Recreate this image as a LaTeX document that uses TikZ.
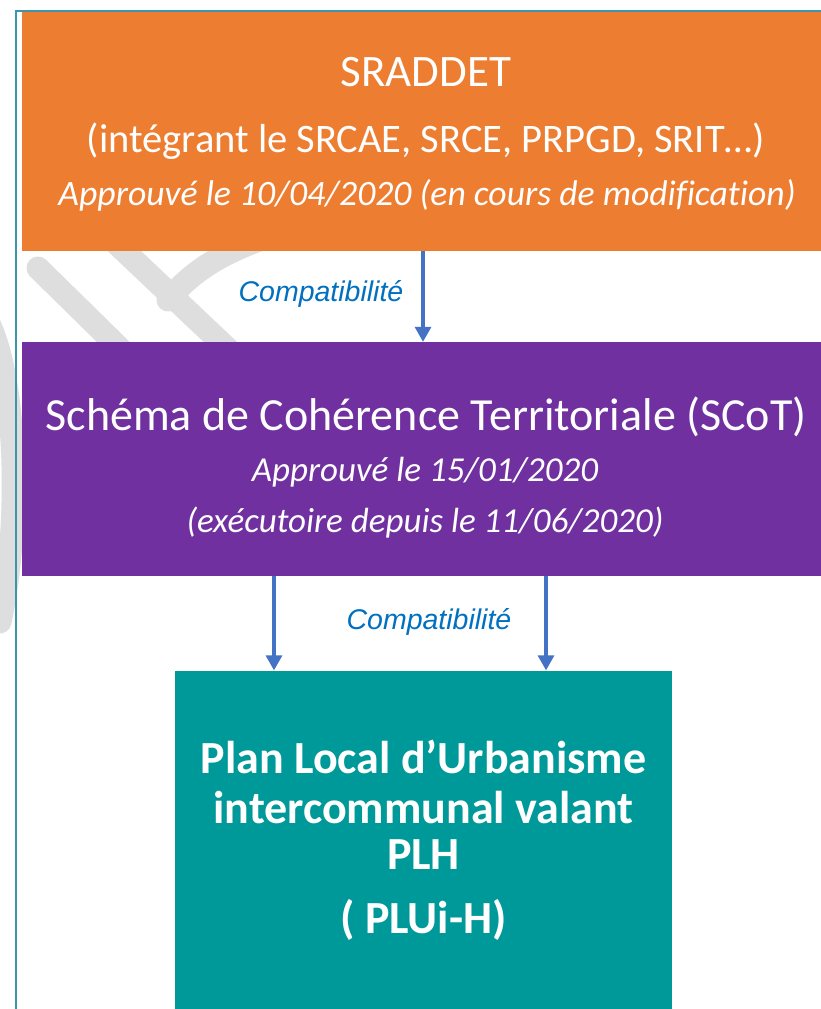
\documentclass[tikz,border=0pt]{standalone}
\usepackage{fontspec}
\setmainfont{Carlito}[Ligatures=NoCommon]
\newfontfamily\arialfont{Liberation Sans}
\usetikzlibrary{arrows.meta}
\definecolor{boxorange}{RGB}{237,125,49}
\definecolor{boxpurple}{RGB}{112,48,160}
\definecolor{boxteal}{RGB}{0,153,153}
\definecolor{arrowblue}{RGB}{68,114,196}
\definecolor{labelblue}{RGB}{0,112,192}
\definecolor{framecol}{RGB}{60,150,170}
\definecolor{wmgray}{RGB}{222,222,222}
\tikzset{
  box/.style={rectangle, inner sep=0pt, draw=none},
  txt/.style={anchor=base, text=white, inner sep=0pt},
  arr/.style={draw=arrowblue, line width=3.2pt, -{Triangle[width=16pt,length=15pt]}},
  lab/.style={anchor=base, text=labelblue, inner sep=0pt, font=\arialfont\itshape\fontsize{28.5}{33}\selectfont},
  wm/.style={draw=wmgray, line width=23pt, line cap=round},
  framestyle/.style={draw=framecol, line width=1.6pt}
}
\begin{document}
\begin{tikzpicture}[x=1pt,y=-1pt]
\useasboundingbox (0,0) rectangle (821,1009);
\clip (0,0) rectangle (821,1009);
\fill[white] (0,0) rectangle (821,1009);
% watermark
\draw[wm] (38,268) -- (150,378);
\draw[wm] (100,228) -- (250,370);
\draw[wm] (168,300) .. controls (195,268) and (225,252) .. (270,236);
\draw[wm] (-14,318) .. controls (16,370) and (22,520) .. (0,622);
% frame
\draw[framestyle] (16,1020) -- (16,11) -- (830,11);
% boxes
\node[box, fill=boxorange, minimum width=808pt, minimum height=238.5pt] (sraddet) at (426,131.25) {};
\node[box, fill=boxpurple, minimum width=808pt, minimum height=233.5pt] (scot) at (426,458.75) {};
\node[box, fill=boxteal, minimum width=497pt, minimum height=344.5pt] (pluih) at (423.5,842.75) {};
% texts orange
\node[txt, font=\fontsize{45}{54}\selectfont] (t1a) at (426,86) {SRADDET};
\node[txt, font=\fontsize{40.5}{48}\selectfont] (t1b) at (426,152) {(intégrant le SRCAE, SRCE, PRPGD, SRIT…)};
\node[txt, font=\itshape\fontsize{35.7}{42}\selectfont] (t1c) at (427,205) {Approuvé le 10/04/2020 (en cours de modification)};
% texts purple
\node[txt, font=\fontsize{46}{54}\selectfont] (t2a) at (426,430) {Schéma de Cohérence Territoriale (SCoT)};
\node[txt, font=\itshape\fontsize{35}{42}\selectfont] (t2b) at (425,481) {Approuvé le 15/01/2020};
\node[txt, font=\itshape\fontsize{35}{42}\selectfont] (t2c) at (425,532) {(exécutoire depuis le 11/06/2020)};
% texts teal
\node[txt, font=\bfseries\fontsize{46}{55}\selectfont] (t3a) at (423.5,773) {Plan Local d’Urbanisme};
\node[txt, font=\bfseries\fontsize{46}{55}\selectfont] (t3b) at (423.5,823) {intercommunal valant};
\node[txt, font=\bfseries\fontsize{46}{55}\selectfont] (t3c) at (423.5,869) {PLH};
\node[txt, font=\bfseries\fontsize{46}{55}\selectfont] (t3d) at (423.5,933) {( PLUi-H)};
% arrows
\coordinate (a1) at ([xshift=-3pt]sraddet.south);
\coordinate (a2) at ([xshift=-152pt]scot.south);
\coordinate (a3) at ([xshift=120pt]scot.south);
\draw[arr] (a1) -- (a1 |- scot.north);
\draw[arr] (a2) -- (a2 |- pluih.north);
\draw[arr] (a3) -- (a3 |- pluih.north);
% labels
\node[lab] (c1) at (321,301) {Compatibilité};
\node[lab] (c2) at (429,629) {Compatibilité};
\end{tikzpicture}
\end{document}
